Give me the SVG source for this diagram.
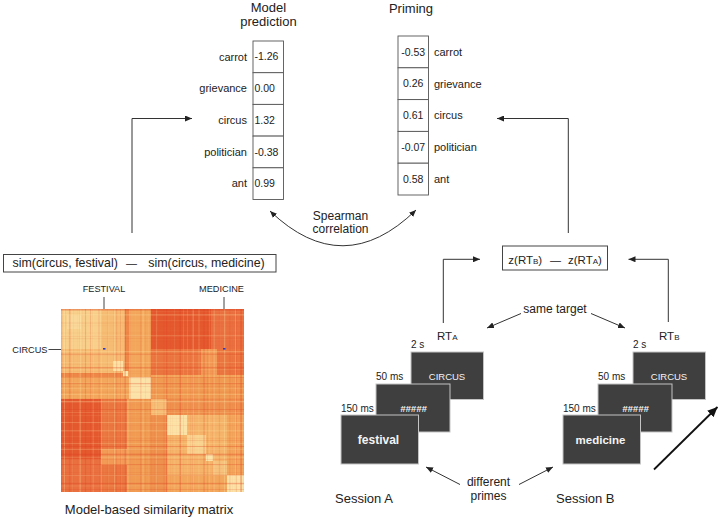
<svg xmlns="http://www.w3.org/2000/svg" width="720" height="521" viewBox="0 0 720 521">
<defs>
<style>
text { font-family: "Liberation Sans", Arial, Helvetica, sans-serif; fill: #222; }
.ttl { font-size: 13px; text-anchor: middle; }
.lab { font-size: 11px; }
.val { font-size: 10.5px; }
.mid { text-anchor: middle; }
.end { text-anchor: end; }
.cell { fill: #fff; stroke: #555; stroke-width: 0.9; }
.box { fill: #fff; stroke: #444; stroke-width: 1; }
.ln { fill: none; stroke: #333; stroke-width: 1; }
.scr { fill: #3f3f3f; stroke: #c4c4c4; stroke-width: 1; }
.tim { font-size: 10px; }
.rt { font-size: 11.5px; }
.sub { font-size: 8px; }
.cap { font-size: 13px; }
.hl { font-size: 9.2px; }
.tick { stroke: #444; stroke-width: 1; }
.sw { fill: #f4f4f4; text-anchor: middle; }
</style>
<marker id="ah" markerUnits="userSpaceOnUse" markerWidth="8" markerHeight="6" refX="7" refY="3" orient="auto-start-reverse">
<path d="M0,0 L7,3 L0,6 z" fill="#222"/>
</marker>
<marker id="ahb" markerUnits="userSpaceOnUse" markerWidth="11" markerHeight="9" refX="10" refY="4.5" orient="auto">
<path d="M0,0 L10,4.5 L0,9 z" fill="#111"/>
</marker>
<filter id="fv" x="0" y="0" width="1" height="1" color-interpolation-filters="sRGB">
<feTurbulence type="fractalNoise" baseFrequency="0.38 0.0001" numOctaves="2" seed="4" result="n"/>
<feColorMatrix in="n" type="matrix" values="0 0 0 0 0.86  0 0 0 0 0.24  0 0 0 0 0.12  3 0 0 0 -1.55" result="d"/>
<feColorMatrix in="n" type="matrix" values="0 0 0 0 1  0 0 0 0 0.92  0 0 0 0 0.66  0 3 0 0 -1.7" result="l"/>
<feMerge><feMergeNode in="d"/><feMergeNode in="l"/></feMerge>
</filter>
<filter id="fh" x="0" y="0" width="1" height="1" color-interpolation-filters="sRGB">
<feTurbulence type="fractalNoise" baseFrequency="0.0001 0.38" numOctaves="2" seed="4" result="n"/>
<feColorMatrix in="n" type="matrix" values="0 0 0 0 0.86  0 0 0 0 0.24  0 0 0 0 0.12  3 0 0 0 -1.55" result="d"/>
<feColorMatrix in="n" type="matrix" values="0 0 0 0 1  0 0 0 0 0.92  0 0 0 0 0.66  0 3 0 0 -1.7" result="l"/>
<feMerge><feMergeNode in="d"/><feMergeNode in="l"/></feMerge>
</filter>
</defs>
<rect x="0" y="0" width="720" height="521" fill="#fff"/>

<g id="model-table">
<text class="ttl" x="268.5" y="11.5">Model</text>
<text class="ttl" x="268.5" y="25.5">prediction</text>
<rect class="cell" x="253" y="41" width="30.5" height="31.7"/>
<rect class="cell" x="253" y="72.7" width="30.5" height="31.7"/>
<rect class="cell" x="253" y="104.4" width="30.5" height="31.7"/>
<rect class="cell" x="253" y="136.1" width="30.5" height="31.7"/>
<rect class="cell" x="253" y="167.8" width="30.5" height="31.7"/>
<text class="lab end" x="247" y="60.6">carrot</text>
<text class="lab end" x="247" y="92.3">grievance</text>
<text class="lab end" x="247" y="124">circus</text>
<text class="lab end" x="247" y="155.7">politician</text>
<text class="lab end" x="247" y="187.4">ant</text>
<text class="val" x="254.5" y="60.4">-1.26</text>
<text class="val" x="254.5" y="92.1">0.00</text>
<text class="val" x="254.5" y="123.8">1.32</text>
<text class="val" x="254.5" y="155.5">-0.38</text>
<text class="val" x="254.5" y="187.2">0.99</text>
</g>

<g id="priming-table">
<text class="ttl" x="411" y="13.3">Priming</text>
<rect class="cell" x="398" y="36" width="30.5" height="31.8"/>
<rect class="cell" x="398" y="67.8" width="30.5" height="31.8"/>
<rect class="cell" x="398" y="99.6" width="30.5" height="31.8"/>
<rect class="cell" x="398" y="131.4" width="30.5" height="31.8"/>
<rect class="cell" x="398" y="163.2" width="30.5" height="31.8"/>
<text class="val mid" x="413.2" y="55.6">-0.53</text>
<text class="val mid" x="413.2" y="87.4">0.26</text>
<text class="val mid" x="413.2" y="119.2">0.61</text>
<text class="val mid" x="413.2" y="151">-0.07</text>
<text class="val mid" x="413.2" y="182.8">0.58</text>
<text class="lab" x="434" y="55.8">carrot</text>
<text class="lab" x="434" y="87.6">grievance</text>
<text class="lab" x="434" y="119.4">circus</text>
<text class="lab" x="434" y="151.2">politician</text>
<text class="lab" x="434" y="183">ant</text>
</g>

<g id="sim-formula">
<rect class="box" x="3.5" y="254.5" width="272.5" height="17.5"/>
<text x="12.5" y="267" font-size="12.4">sim(circus, festival)</text>
<text x="131.5" y="266.5" font-size="11" class="mid">—</text>
<text x="148.3" y="267" font-size="12.4">sim(circus, medicine)</text>
</g>

<g id="similarity-matrix">
<g transform="translate(61,309)">
<rect x="0" y="0" width="183" height="183" fill="#F3A75C"/>
<rect x="0" y="0" width="66" height="66" fill="#F6BC74"/>
<rect x="0" y="0" width="40" height="40" fill="#F8D08C"/>
<rect x="6" y="6" width="14" height="14" fill="#F9D899"/>
<rect x="52" y="52" width="10" height="10" fill="#FBE2A4"/>
<rect x="62" y="62" width="5" height="5" fill="#FCE8AE"/>
<rect x="64" y="0" width="4" height="62" fill="#EE8747"/>
<rect x="0" y="64" width="62" height="4" fill="#EE8747"/>
<rect x="90" y="0" width="93" height="66" fill="#E5592F"/>
<rect x="0" y="90" width="66" height="93" fill="#E5592F"/>
<rect x="90" y="40" width="93" height="26" fill="#EB7640"/>
<rect x="40" y="90" width="26" height="93" fill="#EB7640"/>
<rect x="140" y="40" width="16" height="26" fill="#F29A56"/>
<rect x="40" y="140" width="26" height="16" fill="#F29A56"/>
<rect x="0" y="150" width="40" height="33" fill="#EA7040"/>
<rect x="150" y="0" width="33" height="40" fill="#EA7040"/>
<rect x="68" y="68" width="22" height="22" fill="#FBE2A8"/>
<rect x="90" y="68" width="93" height="22" fill="#F09A52"/>
<rect x="68" y="90" width="22" height="93" fill="#F09A52"/>
<rect x="90" y="106" width="16" height="77" fill="#EF914E"/>
<rect x="106" y="90" width="77" height="16" fill="#EF914E"/>
<rect x="106" y="106" width="60" height="60" fill="#F5B46A"/>
<rect x="90" y="90" width="16" height="16" fill="#F6BE76"/>
<rect x="106" y="106" width="20" height="20" fill="#FBE2A6"/>
<rect x="126" y="126" width="19" height="19" fill="#F8D28E"/>
<rect x="145" y="145" width="7" height="7" fill="#FBE2A6"/>
<rect x="152" y="152" width="14" height="14" fill="#F6C27C"/>
<rect x="166" y="166" width="17" height="17" fill="#FBE2A6"/>
<rect x="0" y="0" width="183" height="183" fill="#000" filter="url(#fv)" opacity="0.5"/>
<rect x="0" y="0" width="183" height="183" fill="#000" filter="url(#fh)" opacity="0.5"/>
<rect x="42" y="39" width="2.5" height="1.6" fill="#2a3ccc"/>
<rect x="162" y="39" width="2.5" height="1.6" fill="#2a3ccc"/>
</g>
<text class="hl mid" x="104" y="292">FESTIVAL</text>
<text class="hl mid" x="221.5" y="292">MEDICINE</text>
<text class="hl end" x="47.5" y="353.3">CIRCUS</text>
<line class="tick" x1="104" y1="297" x2="104" y2="309"/>
<line class="tick" x1="224" y1="297" x2="224" y2="309"/>
<line class="tick" x1="48.5" y1="349.5" x2="61" y2="349.5"/>
<text class="cap mid" x="149" y="514">Model-based similarity matrix</text>
</g>

<g id="rt-formula">
<rect class="box" x="502.5" y="246" width="105" height="24"/>
<text class="rt" x="508.3" y="263.5">z(RT<tspan class="sub">B</tspan>)</text>
<text x="555.5" y="263.5" font-size="11" class="mid">—</text>
<text class="rt" x="568" y="263.5">z(RT<tspan class="sub">A</tspan>)</text>
</g>

<g id="session-a">
<text class="rt" x="437" y="340">RT<tspan class="sub">A</tspan></text>
<text class="tim" x="411" y="347.5">2 s</text>
<rect class="scr" x="411" y="352" width="72.5" height="47.5"/>
<text class="sw" x="447" y="380" font-size="9.5">CIRCUS</text>
<text class="tim" x="376" y="380">50 ms</text>
<rect class="scr" x="376" y="384" width="74" height="48"/>
<text class="sw" x="413.5" y="411.5" font-size="9.5" font-weight="bold" font-style="italic">#####</text>
<text class="tim" x="341" y="411.5">150 ms</text>
<rect class="scr" x="341" y="415" width="77.5" height="49"/>
<text class="sw" x="378.5" y="444" font-size="12" font-weight="bold">festival</text>
<text class="cap" x="335" y="503">Session A</text>
</g>

<g id="session-b">
<text class="rt" x="659" y="340">RT<tspan class="sub">B</tspan></text>
<text class="tim" x="633" y="347.5">2 s</text>
<rect class="scr" x="633" y="352" width="72.5" height="47.5"/>
<text class="sw" x="669" y="380" font-size="9.5">CIRCUS</text>
<text class="tim" x="598" y="380">50 ms</text>
<rect class="scr" x="598" y="384" width="74" height="48"/>
<text class="sw" x="635.5" y="411.5" font-size="9.5" font-weight="bold" font-style="italic">#####</text>
<text class="tim" x="563" y="411.5">150 ms</text>
<rect class="scr" x="563" y="415" width="77.5" height="49"/>
<text class="sw" x="600.5" y="444" font-size="11.5" font-weight="bold">medicine</text>
<text class="cap" x="556" y="503">Session B</text>
</g>

<g id="connectors">
<path class="ln" d="M132,233 V118.5 H192" marker-end="url(#ah)"/>
<path class="ln" d="M568.3,233 V118.5 H497" marker-end="url(#ah)"/>
<path class="ln" d="M443.3,323 V259.3 H480" marker-end="url(#ah)"/>
<path class="ln" d="M668.3,322 V259.3 H628.5" marker-end="url(#ah)"/>
<path class="ln" d="M270,211 Q343,281 416,210" marker-start="url(#ah)" marker-end="url(#ah)"/>
<text class="mid" x="340.5" y="220" font-size="12">Spearman</text>
<text class="mid" x="340.5" y="232.5" font-size="12">correlation</text>
<path class="ln" d="M521,313.5 L487,328" marker-end="url(#ah)"/>
<path class="ln" d="M591,313.5 L625,328" marker-end="url(#ah)"/>
<text class="mid" x="555" y="312.5" font-size="12">same target</text>
<path class="ln" d="M460,484.5 L426,467" marker-end="url(#ah)"/>
<path class="ln" d="M519,484.5 L553,467" marker-end="url(#ah)"/>
<text class="mid" x="488.5" y="485.5" font-size="12">different</text>
<text class="mid" x="488.5" y="500" font-size="12">primes</text>
<path d="M654,469.5 L717.5,407" fill="none" stroke="#111" stroke-width="1.8" marker-end="url(#ahb)"/>
</g>
</svg>
